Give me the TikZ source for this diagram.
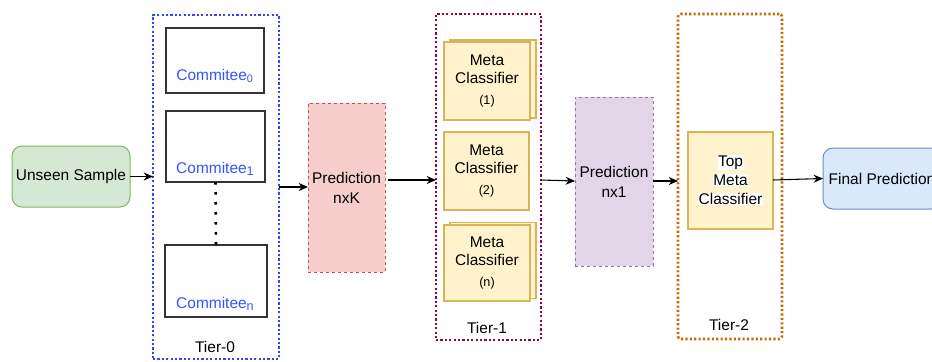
\documentclass[tikz,border=0pt]{standalone}
\usepackage{fontspec}
\setmainfont{Liberation Sans}
\usetikzlibrary{arrows.meta}
\definecolor{gfill}{HTML}{D5E8D4}\definecolor{gline}{HTML}{82B366}
\definecolor{bfill}{HTML}{DAE8FC}\definecolor{bline}{HTML}{6C8EBF}
\definecolor{rfill}{HTML}{F8CECC}\definecolor{rline}{HTML}{B85450}
\definecolor{pfill}{HTML}{E1D5E7}\definecolor{pline}{HTML}{9673A6}
\definecolor{yfill}{HTML}{FFF2CC}\definecolor{yline}{HTML}{D6B656}
\definecolor{tierblue}{HTML}{3344FF}
\definecolor{tiermaroon}{HTML}{990044}
\definecolor{tierorange}{HTML}{CC6600}
\definecolor{comtext}{HTML}{3355FF}
\definecolor{boxgray}{HTML}{333333}
\setlength{\fboxsep}{0.4pt}
\begin{document}
\begin{tikzpicture}[x=0.75pt,y=-0.75pt,
  every node/.style={font=\fontsize{11.6}{15}\selectfont, inner sep=0pt, outer sep=0pt},
  conn/.style={-{Stealth[length=7pt,width=6pt]}, line width=0.8pt, black},
  roundbox/.style={draw, rounded corners=7.5pt, line width=0.75pt, align=center},
  tierbox/.style={draw, line width=1.9pt, dash pattern=on 1.6pt off 1.7pt},
  predbox/.style={draw, line width=0.75pt, dash pattern=on 2.25pt off 2.25pt, align=center},
  combox/.style={draw=boxgray, line width=1.1pt},
  metabox/.style={draw=yline, fill=yfill, line width=0.9pt, align=center,
    minimum width=64.5pt, minimum height=58.5pt},
  comlabel/.style={text=comtext},
]
\useasboundingbox (0,0) rectangle (932,361);
\clip (0,0) rectangle (932,361);

% Unseen sample
\node[roundbox, draw=gline, fill=gfill, minimum width=88.5pt, minimum height=45.75pt] (unseen) at (71,176.5) {Unseen Sample};

% Tier-0
\node[tierbox, draw=tierblue, minimum width=94.5pt, minimum height=258pt] (tier0) at (216,187) {};
\node[combox, minimum width=73.5pt, minimum height=48.75pt] (c0) at (215,60.5) {};
\node[combox, minimum width=74.25pt, minimum height=53.25pt] (c1) at (215.5,146.5) {};
\node[combox, minimum width=76.5pt, minimum height=54pt] (cn) at (216,281) {};
\node[comlabel] (c0t) at (215,76) {Commitee\textsubscript{0}};
\node[comlabel] (c1t) at (215,169) {Commitee\raisebox{-1pt}{\fontsize{9.5}{9.5}\selectfont 1}};
\node[comlabel] (cnt) at (215,304) {Commitee\raisebox{-1pt}{\fontsize{9.5}{9.5}\selectfont n}};
\draw[line width=2pt, dash pattern=on 2pt off 5.5pt, black] (c1.south) -- (cn.north);
\node (t0lab) at (215,347) {Tier-0};

% Prediction nxK
\node[predbox, draw=rline, fill=rfill, minimum width=57.75pt, minimum height=126.75pt] (predk) at (346.5,187.5) {Prediction\\nxK};

% Tier-1
\node[tierbox, draw=tiermaroon, minimum width=78.75pt, minimum height=244.5pt] (tier1) at (488.5,177) {};
\node[metabox] (m1b) at (493,79) {};
\node[metabox] (m1) at (487,81) {Meta\\[-1.5pt]Classifier\\[0.5pt]{\fontsize{9.5}{10}\selectfont (1)}};
\node[metabox, minimum width=63.75pt] (m2) at (486.5,171) {Meta\\[-1.5pt]Classifier\\[0.5pt]{\fontsize{9.5}{10}\selectfont (2)}};
\node[metabox, minimum height=57pt] (mnb) at (493,260.5) {};
\node[metabox, minimum height=57pt] (mn) at (487,263) {Meta\\[-1.5pt]Classifier\\[0.5pt]{\fontsize{9.5}{10}\selectfont (n)}};
\node (t1lab) at (487,328) {Tier-1};

% Prediction nx1
\node[predbox, draw=pline, fill=pfill, minimum width=58.5pt, minimum height=126.75pt] (pred1) at (614,181.5) {Prediction\\nx1};

% Tier-2
\node[tierbox, draw=tierorange, rounded corners=2pt, minimum width=78pt, minimum height=243.75pt] (tier2) at (730,176.5) {};
\node[metabox, minimum width=63.75pt, minimum height=72.75pt] (top) at (730.5,180.5) {};
\node[align=center, font=\fontsize{11.6}{14.25}\selectfont] (toptext) at (730.5,180) {\colorbox{white}{Top}\\\colorbox{white}{Meta}\\\colorbox{white}{Classifier}};
\node (t2lab) at (729,325) {Tier-2};

% Final prediction
\node[roundbox, draw=bline, fill=bfill, minimum width=88.5pt, minimum height=45.75pt] (final) at (882,178.5) {Final Prediction};

% connectors
\draw[conn] (unseen.east) -- (tier0.west |- unseen.east);
\draw[conn] (tier0.east) -- (predk.west |- tier0.east);
\draw[conn] (predk.east |- 0,180) ++(3,0) -- (tier1.west |- 0,180);
\draw[conn] (tier1.east |- 0,180) -- (pred1.west |- 0,181);
\draw[conn] (pred1.east |- 0,181) -- (tier2.west |- 0,181);
\draw[conn] (top.east |- 0,180) -- (final.west);
\end{tikzpicture}
\end{document}
